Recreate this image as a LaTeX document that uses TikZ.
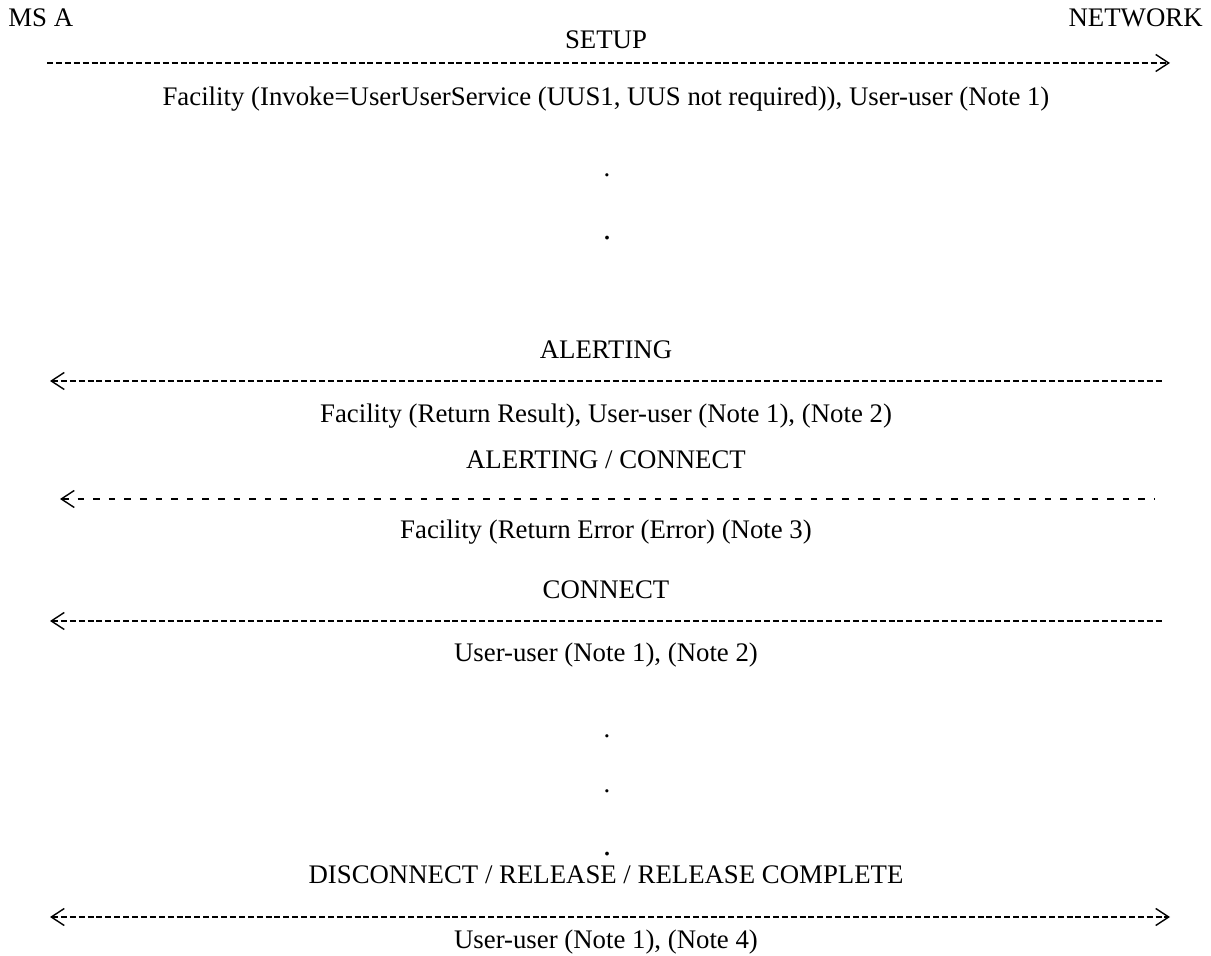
\documentclass[tikz,border=0pt]{standalone}
\usepackage{fontspec}
\setmainfont{Liberation Serif}
\usetikzlibrary{arrows.meta}

\begin{document}
\begin{tikzpicture}[
    x=0.5pt, y=-0.5pt,
    >={Straight Barb[length=6.5pt, width=8.5pt]},
    font=\fontsize{13.4}{16}\selectfont,
    lbl/.style={inner sep=0pt, text height=0.68em, text depth=0.22em},
    pnt/.style={inner sep=0pt, anchor=base},
    msg/.style={line width=0.7pt, dash pattern=on 3pt off 1.45pt},
    msgsp/.style={line width=0.7pt, dash pattern=on 3.3pt off 4.5pt}
  ]
  \useasboundingbox (0,0) rectangle (1211,956);

  % -- ends of the flow ---------------------------------------------
  \node[lbl, anchor=west] (msa) at (8,22)    {MS A};
  \node[lbl, anchor=east] (net) at (1203,22) {NETWORK};

  % -- SETUP ---------------------------------------------------------
  \node[lbl] (setup) at (606,44) {SETUP};
  \coordinate (s1) at (47,63);
  \coordinate (e1) at (1170,63);
  \draw[msg, ->] (s1) -- (e1);
  \node[lbl] (fac1) at (606,101)
    {Facility (Invoke=UserUserService (UUS1, UUS not required)), User-user (Note 1)};

  \node[pnt] (p1) at (607,177) {.};
  \node[pnt, font=\fontsize{16}{16}\selectfont] (p2) at (607,240) {.};

  % -- ALERTING ------------------------------------------------------
  \node[lbl] (alert) at (606,354) {ALERTING};
  \coordinate (s2) at (50,381);
  \coordinate (e2) at (1163,381);
  \draw[msg, <-] (s2) -- (e2);
  \node[lbl] (fac2) at (606,418)
    {Facility (Return Result), User-user (Note 1), (Note 2)};

  % -- ALERTING / CONNECT --------------------------------------------
  \node[lbl] (alcon) at (606,464) {ALERTING / CONNECT};
  \coordinate (s3) at (60,499);
  \coordinate (e3) at (1155,499);
  \draw[msgsp, <-] (s3) -- (e3);
  \node[lbl] (fac3) at (606,534)
    {Facility (Return Error (Error) (Note 3)};

  % -- CONNECT -------------------------------------------------------
  \node[lbl] (conn) at (606,594) {CONNECT};
  \coordinate (s4) at (50,621);
  \coordinate (e4) at (1163,621);
  \draw[msg, <-] (s4) -- (e4);
  \node[lbl] (uu4) at (606,657) {User-user (Note 1), (Note 2)};

  \node[pnt] (p3) at (607,738) {.};
  \node[pnt] (p4) at (607,793) {.};
  \node[pnt, font=\fontsize{16}{16}\selectfont] (p5) at (607,856) {.};

  % -- DISCONNECT / RELEASE / RELEASE COMPLETE -----------------------
  \node[lbl] (disc) at (606,879) {DISCONNECT / RELEASE / RELEASE COMPLETE};
  \coordinate (s5) at (50,917);
  \coordinate (e5) at (1170,917);
  \draw[msg, <->] (s5) -- (e5);
  \node[lbl] (uu5) at (606,944) {User-user (Note 1), (Note 4)};

\end{tikzpicture}
\end{document}
